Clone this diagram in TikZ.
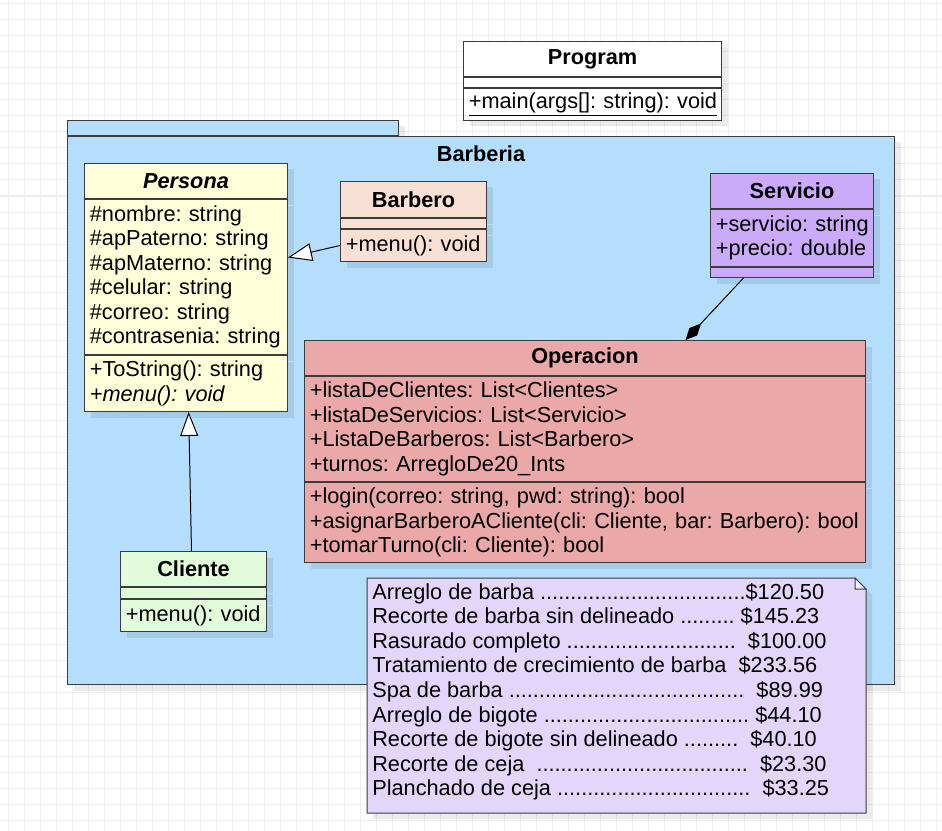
\documentclass[tikz,border=0pt]{standalone}
\usepackage{fontspec}
\setmainfont{Liberation Sans}
\usetikzlibrary{arrows.meta, positioning, shadows}
\definecolor{umlline}{RGB}{60, 60, 60}
\definecolor{gridgray}{RGB}{238, 238, 238}
\definecolor{pkgblue}{RGB}{181, 221, 252}
\definecolor{personayellow}{RGB}{255, 255, 218}
\definecolor{barberopeach}{RGB}{249, 224, 213}
\definecolor{serviciolila}{RGB}{204, 170, 250}
\definecolor{operacionrosa}{RGB}{234, 168, 168}
\definecolor{clienteverde}{RGB}{226, 251, 219}
\definecolor{notalila}{RGB}{228, 214, 250}
\definecolor{notafold}{RGB}{242, 236, 253}
\newcommand{\umlfont}{\fontsize{16.3}{18.4}\selectfont}

\begin{document}
\frenchspacing
\begin{tikzpicture}[x=0.75pt, y=-0.75pt,
  umlpart/.style={draw=umlline, line width=0.75pt, inner xsep=4pt, inner ysep=0pt,
    align=left, font=\umlfont,
    drop shadow={shadow xshift=4.5pt, shadow yshift=-4.5pt, opacity=0.08, fill=black}},
  umltitle/.style={umlpart, align=center, font=\umlfont\bfseries},
  gridline/.style={draw=gridgray, line width=0.75pt},
  link/.style={draw=black, line width=0.75pt},
  herencia/.style={link, -{Triangle[fill=white, length=18pt, width=13.5pt]}},
  composicion/.style={link, -{Diamond[length=17pt, width=8pt]}}]
  \useasboundingbox (0,0) rectangle (942,831);
  \fill[white] (0,0) rectangle (942,831);

  % Background grid
  \foreach \gx in {8,24,...,936}
    \draw[gridline] (\gx,0) -- (\gx,831);
  \foreach \gy in {4,20,...,820}
    \draw[gridline] (0,\gy) -- (942,\gy);

  % Package Barberia
  \node[umlpart, fill=pkgblue, inner sep=0pt, minimum width=248.25pt, minimum height=11.25pt, anchor=north west] (pkgtab) at (67,120) {};
  \node[umlpart, fill=pkgblue, inner sep=0pt, minimum width=620.25pt, minimum height=411pt, below right=0pt of pkgtab.south west] (pkg) {};
  \node[font=\umlfont\bfseries] (pkgname) at ([yshift=-13.5pt]pkg.north) {Barberia};

  % Program
  \node[umltitle, fill=white, minimum width=193.5pt, text width=185.5pt, minimum height=26.25pt, anchor=north west] (progtitle) at (463,41) {Program};
  \node[umlpart, fill=white, minimum width=193.5pt, text width=185.5pt, minimum height=7.5pt, below right=0pt of progtitle.south west] (progattr) {};
  \node[umlpart, fill=white, minimum width=193.5pt, text width=185.5pt, minimum height=24pt, below right=0pt of progattr.south west] (progmeth) {\underline{+main(args[]: string): void}};

  % Persona
  \node[umltitle, fill=personayellow, minimum width=152.25pt, text width=144.25pt, minimum height=26.25pt, anchor=north west, font=\umlfont\bfseries\itshape] (perstitle) at (84,163) {Persona};
  \node[umlpart, fill=personayellow, minimum width=152.25pt, text width=144.25pt, minimum height=116.25pt, below right=0pt of perstitle.south west] (persattr) {
    \#nombre: string\\
    \#apPaterno: string\\
    \#apMaterno: string\\
    \#celular: string\\
    \#correo: string\\
    \#contrasenia:~string};
  \node[umlpart, fill=personayellow, minimum width=152.25pt, text width=144.25pt, minimum height=42pt, below right=0pt of persattr.south west] (persmeth) {
    +ToString(): string\\
    \textit{+menu(): void}};

  % Barbero
  \node[umltitle, fill=barberopeach, minimum width=109.5pt, text width=101.5pt, minimum height=27pt, anchor=north west] (barbtitle) at (340,181) {Barbero};
  \node[umlpart, fill=barberopeach, minimum width=109.5pt, text width=101.5pt, minimum height=7.5pt, below right=0pt of barbtitle.south west] (barbattr) {};
  \node[umlpart, fill=barberopeach, minimum width=109.5pt, text width=101.5pt, minimum height=24pt, below right=0pt of barbattr.south west] (barbmeth) {+menu():~void};

  % Servicio
  \node[umltitle, fill=serviciolila, minimum width=122.25pt, text width=114.25pt, minimum height=26.25pt, anchor=north west] (servtitle) at (710,173) {Servicio};
  \node[umlpart, fill=serviciolila, minimum width=122.25pt, text width=114.25pt, minimum height=42.75pt, below right=0pt of servtitle.south west] (servattr) {
    +servicio:~string\\
    +precio:~double};
  \node[umlpart, fill=serviciolila, minimum width=122.25pt, text width=114.25pt, minimum height=7.5pt, below right=0pt of servattr.south west] (servvacio) {};

  % Operacion
  \node[umltitle, fill=operacionrosa, minimum width=420.75pt, text width=412.75pt, minimum height=26.25pt, anchor=north west] (opertitle) at (304,340) {Operacion};
  \node[umlpart, fill=operacionrosa, minimum width=420.75pt, text width=412.75pt, minimum height=78.75pt, below right=0pt of opertitle.south west] (operattr) {
    +listaDeClientes: List<Clientes>\\
    +listaDeServicios: List<Servicio>\\
    +ListaDeBarberos: List<Barbero>\\
    +turnos: ArregloDe20\_Ints};
  \node[umlpart, fill=operacionrosa, minimum width=420.75pt, text width=412.75pt, minimum height=60pt, below right=0pt of operattr.south west] (opermeth) {
    +login(correo: string, pwd: string): bool\\
    +asignarBarberoACliente(cli: Cliente, bar: Barbero):~bool\\
    +tomarTurno(cli: Cliente): bool};

  % Cliente
  \node[umltitle, fill=clienteverde, minimum width=109.5pt, text width=101.5pt, minimum height=26.25pt, anchor=north west] (clititle) at (120,551) {Cliente};
  \node[umlpart, fill=clienteverde, minimum width=109.5pt, text width=101.5pt, minimum height=8.25pt, below right=0pt of clititle.south west] (cliattr) {};
  \node[umlpart, fill=clienteverde, minimum width=109.5pt, text width=101.5pt, minimum height=24pt, below right=0pt of cliattr.south west] (climeth) {+menu():~void};

  % Note with the prices
  \draw[draw=umlline, line width=0.75pt, fill=notalila,
    drop shadow={shadow xshift=4.5pt, shadow yshift=-4.5pt, opacity=0.08, fill=black}]
    (367,578) -- (855,578) -- (866,589) -- (866,813) -- (367,813) -- cycle;
  \draw[draw=umlline, line width=0.75pt, fill=notafold] (855,578) -- (855,589) -- (866,589) -- cycle;
  \node[font=\umlfont, align=left, anchor=north west, inner sep=0pt] (precios) at (372,583) {
    Arreglo de barba ..................................\$120.50\\
    Recorte de barba sin delineado ......... \$145.23\\
    Rasurado completo ............................\ \ \$100.00\\
    Tratamiento de crecimiento de barba\ \ \$233.56\\
    Spa de barba .......................................\ \ \$89.99\\
    Arreglo de bigote .................................. \$44.10\\
    Recorte de bigote sin delineado .........\ \ \$40.10\\
    Recorte de ceja\ \ ...................................\ \ \$23.30\\
    Planchado de ceja ................................\ \ \$33.25};

  % Relations
  \draw[herencia] (barbmeth.west) -- ([yshift=14.6pt]persattr.east);
  \draw[herencia] ([xshift=-1.5pt]clititle.north) -- ([xshift=2pt]persmeth.south);
  \draw[composicion] ([xshift=-36.4pt]servvacio.south) -- ([xshift=75.4pt]opertitle.north);
\end{tikzpicture}
\end{document}
